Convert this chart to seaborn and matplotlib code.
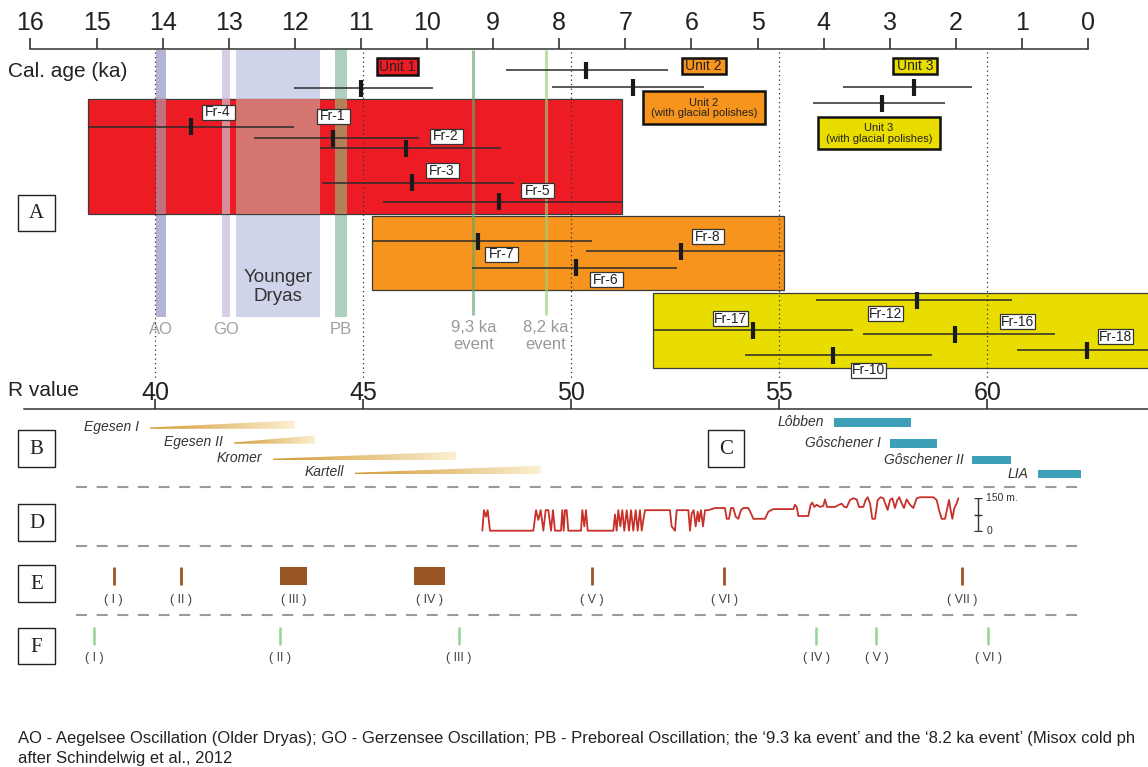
import numpy as np
import matplotlib
matplotlib.use("Agg")
import matplotlib.pyplot as plt
from matplotlib.patches import Rectangle, Polygon
from matplotlib.colors import LinearSegmentedColormap
import seaborn as sns

# ---------------------------------------------------------------- data
# calibrated ages of the dated units (ka): best value, older and younger limit
unit_age = [11.00, 7.59, 6.89, 2.63, 3.11]
unit_old = [12.01, 8.80, 8.11, 3.71, 4.16]
unit_young = [9.91, 6.36, 5.81, 1.76, 2.16]

# Schmidt-hammer R values per site
sample_names = ["Fr-4", "Fr-1", "Fr-2", "Fr-3", "Fr-5", "Fr-7", "Fr-8", "Fr-6",
                "Fr-12", "Fr-17", "Fr-16", "Fr-10", "Fr-18"]
sample_r = [40.86, 44.27, 46.02, 46.18, 48.25, 47.76, 52.64, 50.10,
            58.30, 54.37, 59.23, 56.28, 62.40]
sample_lo = [38.37, 42.38, 43.96, 44.00, 45.47, 45.20, 50.34, 47.62,
             55.88, 51.95, 57.01, 54.18, 60.70]
sample_hi = [43.32, 46.34, 48.31, 48.62, 51.21, 50.50, 55.12, 52.55,
             60.58, 56.77, 61.62, 58.68, 64.10]

# R value range of units 1-3
unit_box_lo = [38.37, 45.20, 51.95]
unit_box_hi = [51.21, 55.12, 64.50]

# cold oscillations and events (ka)
osc_names = ["AO", "GO", "Younger\nDryas", "PB"]
osc_old = [14.10, 13.10, 12.89, 11.39]
osc_young = [13.95, 12.98, 11.62, 11.21]
event_names = ["9,3 ka\nevent", "8,2 ka\nevent"]
event_age = [9.3, 8.2]

# B: Lateglacial stadials (ka)
stadial_names = ["Egesen I", "Egesen II", "Kromer", "Kartell"]
stadial_old = [14.19, 12.92, 12.33, 11.09]
stadial_young = [12.00, 11.69, 9.56, 8.28]

# C: Holocene glacier advances (ka)
advance_names = ["Lôbben", "Gôschener I", "Gôschener II", "LIA"]
advance_old = [3.85, 3.00, 1.75, 0.76]
advance_young = [2.68, 2.28, 1.17, 0.11]

# D: level curve (ka, m)
d_age = [9.163, 9.138, 9.107, 9.082, 9.047,
         8.391, 8.351, 8.316, 8.280, 8.240, 8.205, 8.164, 8.124, 8.094, 8.064,
         7.973, 7.953, 7.932, 7.912, 7.887, 7.862,
         7.670, 7.650, 7.620, 7.595, 7.569,
         7.181, 7.156, 7.131, 7.106, 7.075, 7.045, 7.015, 6.979, 6.944, 6.914,
         6.879, 6.843, 6.813, 6.778, 6.752, 6.727, 6.702,
         6.324, 6.299, 6.248, 6.223,
         6.046, 6.021, 5.996, 5.966, 5.935, 5.905, 5.885, 5.855, 5.825, 5.794, 5.744,
         5.643, 5.492, 5.466, 5.431, 5.401, 5.366, 5.330, 5.290, 5.250, 5.214,
         5.139, 5.098, 5.063, 4.887, 4.836, 4.761, 4.458, 4.433, 4.407, 4.382,
         4.231, 4.196, 4.171, 4.140, 4.105, 4.054, 4.004, 3.979, 3.949, 3.878,
         3.828, 3.767, 3.727, 3.686, 3.651, 3.601, 3.550, 3.500, 3.464, 3.399,
         3.364, 3.333, 3.298, 3.263, 3.222, 3.182, 3.137, 3.096, 3.061, 3.031,
         2.995, 2.960, 2.920, 2.885, 2.854, 2.819, 2.784, 2.743, 2.693, 2.643,
         2.592, 2.542, 2.340, 2.289, 2.254, 2.214, 2.163, 2.128, 2.103, 2.078,
         2.052, 2.022, 1.987, 1.962]
d_level = [0, 95, 65, 95, 0,
           0, 95, 50, 95, 0, 95, 95, 0, 95, 0,
           0, 95, 0, 95, 95, 0,
           0, 95, 20, 95, 0,
           0, 75, 0, 95, 20, 95, 0, 95, 0, 95,
           0, 95, 0, 95, 0, 50, 95,
           95, 20, 0, 95,
           95, 0, 80, 95, 20, 88, 42, 95, 20, 95, 95,
           105, 105, 55, 55, 105, 105, 65, 55, 95, 105,
           105, 80, 55, 55, 88, 100, 100, 120, 110, 68,
           68, 120, 130, 110, 120, 110, 115, 145, 110, 110,
           110, 120, 125, 110, 108, 142, 150, 145, 110, 110,
           142, 155, 127, 55, 55, 142, 155, 150, 120, 96,
           142, 150, 105, 142, 155, 127, 105, 145, 120, 105,
           150, 155, 155, 142, 96, 55, 55, 105, 142, 96,
           55, 105, 127, 150]

# E and F: dated phases (ka)
e_labels = ["( I )", "( II )", "( III )", "( IV )", "( V )", "( VI )", "( VII )"]
e_old = [14.74, 13.72, 12.23, 10.20, 7.51, 5.50, 1.90]
e_young = [14.74, 13.72, 11.81, 9.73, 7.51, 5.50, 1.90]
f_labels = ["( I )", "( II )", "( III )", "( IV )", "( V )", "( VI )"]
f_age = [15.04, 12.22, 9.52, 4.11, 3.20, 1.51]

age_ticks = list(range(16, -1, -1))
r_ticks = [40, 45, 50, 55, 60]

caption = ["AO - Aegelsee Oscillation (Older Dryas); GO - Gerzensee Oscillation; "
           "PB - Preboreal Oscillation; the \u20189.3 ka event\u2019 and the "
           "\u20188.2 ka event\u2019 (Misox cold ph",
           "after Schindelwig et al., 2012"]

# ---------------------------------------------------------------- layout (pixels)
W, H = 1148, 767
R40_PX, PX_PER_R = 155.4, 41.6
AGE0_PX, PX_PER_KA = 1088.0, 66.1

unit_row = [88.3, 70, 87.3, 87.3, 103.3]
sample_row = [126.7, 138.3, 148.3, 182.7, 201.7, 241, 251, 267.7,
              300, 330, 334.3, 355, 350]
label_x = [218, 333, 446, 442, 537.5, 501.5, 708, 606, 885.7, 730.4, 1017.5, 868.5, 1115.5]
label_y = [112, 116, 136, 170.5, 190.5, 254, 236.5, 279.5, 313.3, 318.5, 321, 370, 336.5]
box_top = [99, 216, 292.7]
box_bottom = [214.3, 290, 368.3]
stadial_row = [428.8, 443.7, 460, 474]
advance_row = [422.5, 443.3, 459.8, 473.8]

unit_colors = ["#ed1c24", "#f7941d", "#e9dd00"]
# band colours on white and where they cross the red unit-1 box
osc_colors = ["#b4b4d6", "#d6cde6", "#d0d4ea", "#aed0be"]
osc_on_red = ["#c0707e", "#d88c9c", "#d4766f", "#b4805a"]
event_colors = ["#6aa86a", "#9ad27a"]
ink = "#222222"


def px_r(x):
    return 40 + (np.asarray(x, dtype=float) - R40_PX) / PX_PER_R


def age_to_r(age):
    return px_r(AGE0_PX - PX_PER_KA * np.asarray(age, dtype=float))


def r_to_age(r):
    return (AGE0_PX - (R40_PX + (np.asarray(r, dtype=float) - 40) * PX_PER_R)) / PX_PER_KA


sns.set_theme(style="ticks")
plt.rcParams["font.family"] = ["Liberation Sans", "DejaVu Sans"]

fig = plt.figure(figsize=(W / 100, H / 100), dpi=100)
fig.patch.set_facecolor("white")
ax = fig.add_axes([0, 0, 1, 1])
ax.set_facecolor("white")


def tag(x_px, y_px, text, w, h, fs, fc="white", ec="#333333", lw=0.9, z=6, **kw):
    x0, x1 = px_r(x_px - w / 2), px_r(x_px + w / 2)
    ax.add_patch(Rectangle((x0, y_px - h / 2), x1 - x0, h, fc=fc, ec=ec, lw=lw, zorder=z))
    ax.text(px_r(x_px), y_px + 0.5, text, ha="center", va="center", fontsize=fs,
            zorder=z + 0.1, **kw)


# ---------------------------------------------------------------- panel A
unit_boxes = []
for lo, hi, top, bot, c in zip(unit_box_lo, unit_box_hi, box_top, box_bottom, unit_colors):
    box = Rectangle((lo, top), hi - lo, bot - top, fc=c, ec="#3a3a3a", lw=0.9, zorder=1)
    ax.add_patch(box)
    unit_boxes.append(box)

for name, old, young, c, c_red in zip(osc_names, osc_old, osc_young, osc_colors, osc_on_red):
    x0, x1 = float(age_to_r(old)), float(age_to_r(young))
    ax.add_patch(Rectangle((x0, 50), x1 - x0, 266.7, fc=c, ec="none", zorder=0.5))
    over = Rectangle((x0, 50), x1 - x0, 266.7, fc=c_red, ec="none", zorder=1.5)
    ax.add_patch(over)
    over.set_clip_path(unit_boxes[0])
    mid = age_to_r((old + young) / 2)
    if "\n" in name:
        ax.text(mid, 287, name, ha="center", va="center", fontsize=13.5, color="#333333",
                linespacing=1.15, zorder=2.5)
    else:
        ax.text(mid, 330, name, ha="center", va="center", fontsize=12, color="#a0a0a0")

ax.vlines(age_to_r(event_age), 50, 315, colors=event_colors, lw=2.2, alpha=0.65, zorder=2.1)
for name, a in zip(event_names, event_age):
    ax.text(age_to_r(a), 336, name, ha="center", va="center", fontsize=12,
            color="#9a9a9a", linespacing=1.15)

ax.vlines(r_ticks, 52, 380, colors="#333333", lw=0.9, linestyles=(0, (1, 2.6)), zorder=3)

ax.hlines(unit_row, age_to_r(unit_old), age_to_r(unit_young), colors="#2b2b2b", lw=1.1, zorder=4)
ax.vlines(age_to_r(unit_age), np.array(unit_row) - 8.5, np.array(unit_row) + 8.5,
          colors="#1a1a1a", lw=3.0, zorder=5)
ax.hlines(sample_row, sample_lo, sample_hi, colors="#2b2b2b", lw=1.1, zorder=4)
ax.vlines(sample_r, np.array(sample_row) - 8.5, np.array(sample_row) + 8.5,
          colors="#1a1a1a", lw=3.0, zorder=5)

for name, lx, ly in zip(sample_names, label_x, label_y):
    tag(lx, ly, name, 33 if len(name) == 4 else 35, 15, 10, color=ink)

tag(397.3, 66.5, "Unit 1", 41, 17, 10, fc=unit_colors[0], ec="#111111", lw=1.8, color=ink)
tag(703.6, 66, "Unit 2", 44, 16, 10, fc=unit_colors[1], ec="#111111", lw=1.8, color=ink)
tag(914.9, 66, "Unit 3", 44, 16, 10, fc=unit_colors[2], ec="#111111", lw=1.8, color=ink)
tag(703.8, 107.5, "Unit 2\n(with glacial polishes)", 121.6, 33, 8, fc=unit_colors[1],
    ec="#111111", lw=1.8, color=ink, linespacing=1.05)
tag(879, 133, "Unit 3\n(with glacial polishes)", 122, 32, 8, fc=unit_colors[2],
    ec="#111111", lw=1.8, color=ink, linespacing=1.05)

ax.text(px_r(8), 71.7, "Cal. age (ka)", ha="left", va="center", fontsize=15, color=ink)
ax.text(px_r(8), 390, "R value", ha="left", va="center", fontsize=15, color=ink)

# ---------------------------------------------------------------- panel B
tan = LinearSegmentedColormap.from_list("tan", ["#d39a35", "#fbf0d2"])
grad = np.linspace(0, 1, 256)[None, :]
for name, old, young, yb in zip(stadial_names, stadial_old, stadial_young, stadial_row):
    xl, xr = float(age_to_r(old)), float(age_to_r(young))
    wedge = Polygon([(xl, yb), (xr, yb), (xr, yb - 8.3), (xl, yb - 1.3)], closed=True,
                    fc="none", ec="none")
    ax.add_patch(wedge)
    im = ax.imshow(grad, cmap=tan, extent=(xl, xr, yb, yb - 8.5), aspect="auto",
                   interpolation="bicubic", zorder=2)
    im.set_clip_path(wedge)
    ax.text(xl - 11 / PX_PER_R, yb - 1.5, name, ha="right", va="center", fontsize=10,
            style="italic", color="#333333")

# ---------------------------------------------------------------- panel C
for name, old, young, yc in zip(advance_names, advance_old, advance_young, advance_row):
    xl, xr = float(age_to_r(old)), float(age_to_r(young))
    ax.add_patch(Rectangle((xl, yc - 4.3), xr - xl, 8.6, fc="#3d9fb8", ec="none", zorder=2))
    ax.text(xl - 9 / PX_PER_R, yc, name, ha="right", va="center", fontsize=10,
            style="italic", color="#333333")

ax.hlines([487.3, 546, 615], px_r(75.8), px_r(1082), colors="#9a9a9a", lw=1.5,
          linestyles=(0, (5.3, 4.6)))

# ---------------------------------------------------------------- panel E, F
brown = "#9a5524"
for lab, old, young in zip(e_labels, e_old, e_young):
    if old - young > 0.05:
        xl, xr = float(age_to_r(old)), float(age_to_r(young))
        ax.add_patch(Rectangle((xl, 566.7), xr - xl, 18.3, fc=brown, ec="none"))
    else:
        ax.vlines(age_to_r(old), 566.7, 585, colors=brown, lw=2.0)
    ax.text(age_to_r((old + young) / 2), 600, lab, ha="center", va="center", fontsize=9,
            color="#444444")

ax.vlines(age_to_r(f_age), 627, 645, colors="#94d494", lw=1.8)
for lab, a in zip(f_labels, f_age):
    ax.text(age_to_r(a), 658, lab, ha="center", va="center", fontsize=9, color="#444444")

# ---------------------------------------------------------------- panel letters
for letter, cx, cy in zip("ABCDEF", [36.6, 36.6, 726, 36.6, 36.6, 36.6],
                          [213, 448.3, 448.3, 522.3, 583.3, 646]):
    x0, x1 = px_r(cx - 18.3), px_r(cx + 18.3)
    ax.add_patch(Rectangle((x0, cy - 18.3), x1 - x0, 36.6, fc="white", ec="#222222",
                           lw=1.0, zorder=6))
    ax.text(px_r(cx), cy + 1, letter, ha="center", va="center", fontsize=15,
            family="Liberation Serif", color=ink, zorder=7)

# ---------------------------------------------------------------- axes styling
ax.set_xlim(px_r(0), px_r(W))
ax.set_ylim(H, 0)
for s in ["left", "right", "bottom"]:
    ax.spines[s].set_visible(False)
ax.spines["top"].set_position(("data", 409.3))
ax.spines["top"].set_bounds(px_r(24), px_r(W))
ax.spines["top"].set_color("#333333")
ax.spines["top"].set_linewidth(1.1)
ax.xaxis.set_ticks_position("top")
ax.set_xticks(r_ticks)
ax.set_xticklabels([str(t) for t in r_ticks])
ax.tick_params(axis="x", direction="out", length=7, width=1.1, labelsize=18, pad=-4,
               colors=ink)
ax.set_yticks([])

sec = ax.secondary_xaxis(1 - 49.3 / H, functions=(r_to_age, age_to_r))
sec.set_xticks(age_ticks)
sec.set_xticklabels([str(t) for t in age_ticks])
sec.tick_params(axis="x", direction="out", length=8, width=1.1, labelsize=18, pad=2,
                colors=ink)
sec.spines["top"].set_bounds(0, 16)
sec.spines["top"].set_linewidth(1.1)
sec.spines["top"].set_color("#333333")

# ---------------------------------------------------------------- panel D
ax_d = fig.add_axes([0, 1 - 530.7 / H, 1, 32.4 / H])
ax_d.patch.set_alpha(0)
sns.lineplot(x=d_age, y=d_level, ax=ax_d, sort=False, estimator=None,
             color="#c8302a", lw=1.3, clip_on=False)
ax_d.errorbar(1.658, 75, yerr=75, color="#333333", lw=1.0, capsize=3, capthick=1.0)
ax_d.plot(1.658, 75, marker="_", ms=6, mew=1.0, color="#333333")
ax_d.text(1.536, 150, "150 m.", ha="left", va="center", fontsize=7.5, color="#333333")
ax_d.text(1.536, 0, "0", ha="left", va="center", fontsize=7.5, color="#333333")
ax_d.set_xlim(AGE0_PX / PX_PER_KA, (AGE0_PX - W) / PX_PER_KA)
ax_d.set_ylim(0, 150)
ax_d.axis("off")

# ---------------------------------------------------------------- caption
fig.text(18 / W, 1 - 739 / H, caption[0], ha="left", va="center", fontsize=12.0, color=ink)
fig.text(18 / W, 1 - 758 / H, caption[1], ha="left", va="center", fontsize=12.0, color=ink)

fig.savefig("out.png", dpi=100)
